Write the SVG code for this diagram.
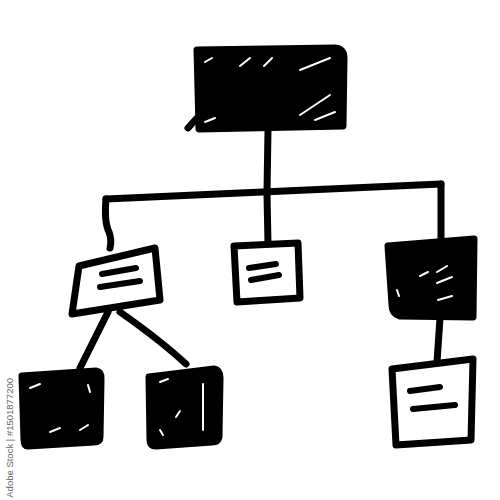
<svg xmlns="http://www.w3.org/2000/svg" width="500" height="500" viewBox="0 0 500 500">
<style>
.line{fill:none;stroke:#000;stroke-width:7;stroke-linecap:round;stroke-linejoin:round}
.dark{fill:#000;stroke:#000;stroke-width:7;stroke-linejoin:round}
.light{fill:#fff;stroke:#000;stroke-width:7;stroke-linejoin:round}
.dash{fill:none;stroke:#000;stroke-width:6;stroke-linecap:round}
.hatch{fill:none;stroke:#fff;stroke-width:2;stroke-linecap:round}
.wm{font-family:"Liberation Sans",Arial,sans-serif;font-size:9.5px;fill:#666}
</style>
<rect width="500" height="500" fill="#fff"/>
<g id="connectors">
<path class="line" d="M268 130 L267 192"/>
<path class="line" d="M106 199 Q270 191 441 184"/>
<path class="line" d="M106 199 Q104 222 109 232 Q112 240 110 248"/>
<path class="line" d="M267 194 L268 244"/>
<path class="line" d="M441 184 L441 240"/>
<path class="line" d="M440 318 L437 362"/>
<path class="line" d="M108 312 L80 368"/>
<path class="line" d="M120 312 Q160 340 186 364"/>
</g>
<g id="top">
<path class="dark" d="M197 50 L335 48 Q344 49 344 58 L343 126 L199 129 Z"/>
<path class="line" d="M197 118 L188 128"/>
<path class="hatch" d="M205 62 L212 58 M240 66 L250 58 M264 66 L272 58 M300 70 L330 58 M300 115 L330 95 M205 122 L215 118 M315 120 L335 112"/>
</g>
<g id="mid-left">
<path class="light" d="M79 266 L155 248 L160 300 L72 314 Z"/>
<path class="dash" d="M102 274 L136 268 M100 287 L140 281"/>
</g>
<g id="mid-center">
<path class="light" d="M234 246 L298 243 L300 298 L237 302 Z"/>
<path class="dash" d="M249 268 L276 264 M251 280 L279 275"/>
</g>
<g id="mid-right">
<path class="dark" d="M388 246 L474 239 L473 317 L400 316 Q392 314 392 305 Z"/>
<path class="hatch" d="M420 276 L428 272 M437 272 L447 266 M437 283 L452 277 M438 300 L452 296 M397 290 L399 296"/>
</g>
<g id="bottom-right">
<path class="light" d="M392 369 L473 359 L471 440 L396 445 Z"/>
<path class="dash" d="M410 391 L440 387 M413 409 L455 405"/>
</g>
<g id="bottom-left">
<path class="dark" d="M22 376 L96 371 Q102 372 101 380 L100 437 Q100 442 94 442 L28 446 Q24 446 24 440 Z"/>
<path class="hatch" d="M30 388 L40 384 M80 430 L88 425 M50 432 L60 428 M88 385 L90 392"/>
</g>
<g id="bottom-mid">
<path class="dark" d="M149 377 L214 369 Q220 370 220 378 L219 437 Q218 442 212 442 L156 446 Q150 446 150 440 Z"/>
<path class="hatch" d="M160 382 L168 379 M203 384 L203 430 M176 417 L180 411 M160 430 L163 435"/>
</g>
<text class="wm" text-anchor="end" transform="translate(13 378) rotate(-90)">Adobe Stock | #1501877200</text>
</svg>
